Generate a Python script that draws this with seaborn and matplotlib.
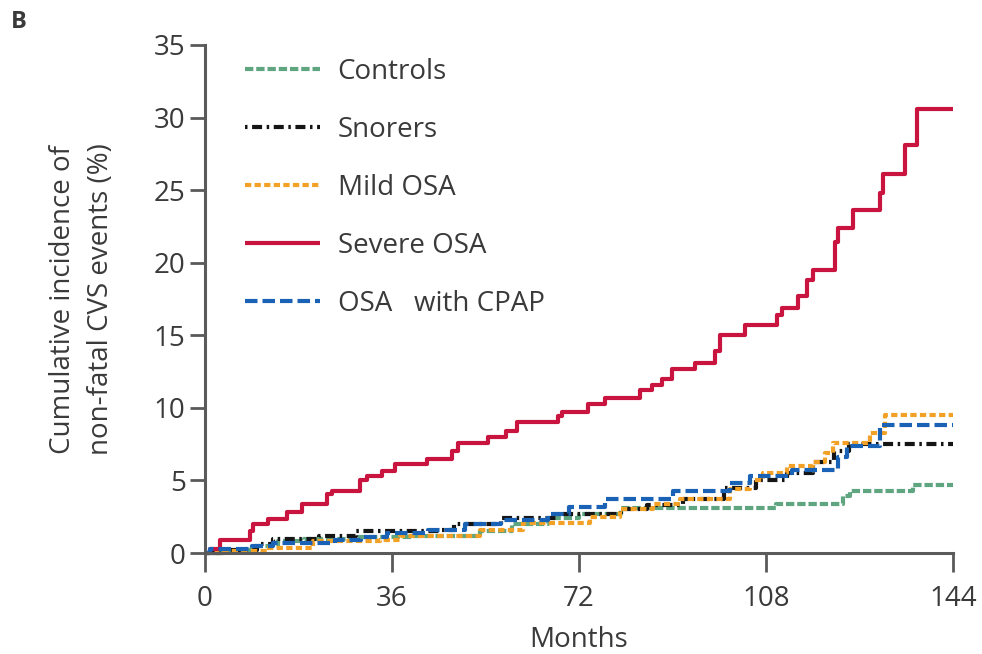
import matplotlib
matplotlib.use("Agg")
import matplotlib.pyplot as plt
import numpy as np
import pandas as pd
import seaborn as sns

# Kaplan-Meier style cumulative incidence
groups = ["Controls", "Snorers", "Mild OSA", "Severe OSA", "OSA   with CPAP"]

controls_months = [0, 4, 9, 14, 19, 28, 40, 53, 59, 66, 72, 80, 110, 122.8, 124.2, 136.3, 144]
controls_pct = [0, 0.2, 0.5, 0.8, 1.0, 1.1, 1.2, 1.5, 2.0, 2.4, 2.7, 3.1, 3.4, 3.9, 4.3, 4.7, 4.7]

snorers_months = [0, 3, 10, 13, 22, 29, 45, 48, 57, 68, 80, 85, 92, 100, 106, 112, 117, 121, 124, 144]
snorers_pct = [0, 0.2, 0.6, 1.0, 1.2, 1.5, 1.6, 2.0, 2.4, 2.7, 3.0, 3.3, 3.7, 4.5, 5.0, 5.5, 6.3, 7.0, 7.5, 7.5]

mild_months = [0, 2.9, 11.9, 20.8, 33.7, 37.5, 52.9, 61.2, 74.1, 79.9, 86.3, 91.5, 101.1, 104.9,
               107.4, 112.0, 117.0, 119.4, 120.9, 128.0, 130.9, 144]
mild_pct = [0, 0.15, 0.35, 0.8, 0.9, 1.2, 1.6, 2.1, 2.5, 3.0, 3.4, 3.7, 4.4, 5.0,
            5.5, 6.0, 6.3, 6.9, 7.6, 8.3, 9.5, 9.5]

severe_months = [0, 1.0, 2.9, 8.7, 9.2, 12.1, 15.8, 18.7, 23.5, 24.5, 29.8, 31.2, 34.1, 36.6, 42.7,
                 47.6, 48.7, 54.5, 58.0, 60.1, 68.0, 68.7, 73.7, 77.0, 83.7, 86.1, 88.0, 89.9, 94.3,
                 98.2, 99.2, 104.0, 110.1, 111.1, 114.2, 115.9, 117.1, 121.3, 121.9, 124.8, 130.0,
                 130.5, 134.8, 137.1, 144]
severe_pct = [0, 0.3, 0.9, 1.5, 2.0, 2.35, 2.85, 3.4, 4.05, 4.3, 5.0, 5.3, 5.65, 6.1, 6.5,
              7.0, 7.6, 8.0, 8.4, 9.0, 9.45, 9.7, 10.3, 10.7, 11.2, 11.6, 12.0, 12.7, 13.1,
              13.9, 15.0, 15.7, 16.4, 16.9, 17.7, 18.8, 19.5, 21.4, 22.4, 23.6, 24.8,
              26.1, 28.1, 30.6, 30.6]

cpap_months = [0, 1, 9, 13, 25, 30, 35, 43, 50, 57, 66, 70, 77, 90, 101, 105, 113, 121.9, 123.6, 130, 144]
cpap_pct = [0, 0.3, 0.5, 0.7, 0.9, 1.1, 1.4, 1.6, 2.0, 2.3, 2.7, 3.2, 3.7, 4.3, 4.8, 5.3, 5.7, 6.6, 7.4, 8.8, 8.8]

x_ticks = [0, 36, 72, 108, 144]
y_ticks = [0, 5, 10, 15, 20, 25, 30, 35]

colors = {
    "Controls": "#5fa57f",
    "Snorers": "#151515",
    "Mild OSA": "#f2a126",
    "Severe OSA": "#c8143f",
    "OSA   with CPAP": "#1a62b5",
}
dashes = {
    "Controls": (2.0, 0.7),
    "Snorers": (0.6, 1.1, 2.4, 1.1),
    "Mild OSA": (1.5, 0.8),
    "Severe OSA": "",
    "OSA   with CPAP": (3.0, 1.2),
}

frames = []
for name, m, p in zip(groups,
                      [controls_months, snorers_months, mild_months, severe_months, cpap_months],
                      [controls_pct, snorers_pct, mild_pct, severe_pct, cpap_pct]):
    frames.append(pd.DataFrame({"Months": m, "pct": p, "group": name}))
df = pd.concat(frames, ignore_index=True)

sns.set_style("ticks")
plt.rcParams["font.family"] = ["Open Sans", "DejaVu Sans"]
text_col = "#3a3a3a"
axis_col = "#5a5a5a"

fig = plt.figure(figsize=(9.82, 6.54), dpi=100)
ax = fig.add_axes([0.2088, 0.1544, 0.7617, 0.7768])

sns.lineplot(data=df, x="Months", y="pct", hue="group", style="group",
             hue_order=groups, style_order=groups, palette=colors, dashes=dashes,
             estimator=None, sort=False, drawstyle="steps-post", linewidth=3.0,
             legend=False, ax=ax)

for line in ax.lines:
    line.set_clip_on(False)
    line.set_solid_capstyle("butt")
    line.set_dash_capstyle("butt")

ax.set_xlim(0, 144)
ax.set_ylim(0, 35)
ax.set_xticks(x_ticks)
ax.set_yticks(y_ticks)
sns.despine(ax=ax)
for s in ["left", "bottom"]:
    ax.spines[s].set_color(axis_col)
    ax.spines[s].set_linewidth(2.2)
ax.tick_params(axis="both", colors=axis_col, width=2.0, labelsize=20,
               labelcolor=text_col, pad=3)
ax.tick_params(axis="y", length=11)
ax.tick_params(axis="x", length=14, pad=9)

ax.set_xlabel("Months", fontsize=20, color=text_col)
ax.set_ylabel("Cumulative incidence of\nnon-fatal CVS events (%)", fontsize=20,
              color=text_col, linespacing=1.5)
ax.xaxis.set_label_coords(0.5, -0.143)
ax.yaxis.set_label_coords(-0.12, 0.5)

ax.legend(ax.lines, groups, loc="upper left", bbox_to_anchor=(0.053, 0.975),
          frameon=False, fontsize=20, handlelength=2.7, handletextpad=0.65,
          labelspacing=1.08, borderpad=0, borderaxespad=0, labelcolor=text_col)

fig.text(0.011, 0.985, "B", fontsize=17, fontweight="bold", color=text_col, va="top")

fig.savefig("out.png", dpi=100)
